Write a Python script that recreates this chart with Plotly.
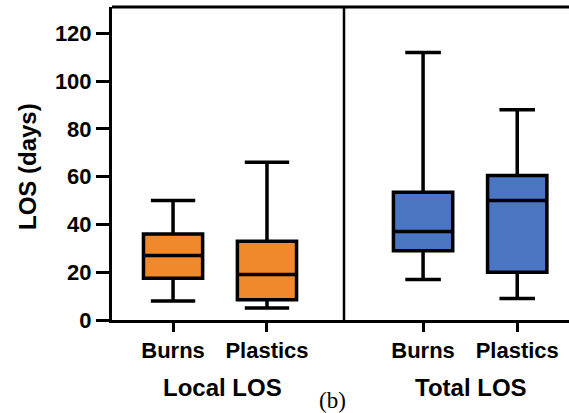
import plotly.graph_objects as go

categories = ["Burns", "Plastics"]
# Local LOS (days)
local_min = [8, 5]
local_q1 = [17.5, 8.5]
local_median = [27, 19]
local_q3 = [36, 33]
local_max = [50, 66]
# Total LOS (days)
total_min = [17, 9]
total_q1 = [29, 20]
total_median = [37, 50]
total_q3 = [53.5, 60.5]
total_max = [112, 88]
y_ticks = [0, 20, 40, 60, 80, 100, 120]

ORANGE = "#F0892B"
BLUE = "#4A76C2"
FONT = "Liberation Sans, Arial, sans-serif"

fig = go.Figure()
fig.add_trace(go.Box(
    x=categories, q1=local_q1, median=local_median, q3=local_q3,
    lowerfence=local_min, upperfence=local_max,
    fillcolor=ORANGE, line=dict(color="black", width=3.5),
    width=0.63, whiskerwidth=0.75, boxpoints=False,
    xaxis="x", yaxis="y", showlegend=False, hoverinfo="skip"))
fig.add_trace(go.Box(
    x=categories, q1=total_q1, median=total_median, q3=total_q3,
    lowerfence=total_min, upperfence=total_max,
    fillcolor=BLUE, line=dict(color="black", width=3.5),
    width=0.63, whiskerwidth=0.6, boxpoints=False,
    xaxis="x2", yaxis="y", showlegend=False, hoverinfo="skip"))

W, H = 569, 413
L, R, T, B = 112, 0, 7, 93
plot_w = W - L - R
plot_h = H - T - B
div = (344 - L) / plot_w


def px_x(px):
    return (px - L) / plot_w


def px_y(py):
    return (H - B - py) / plot_h


tickfont = dict(family=FONT, size=22, color="black", weight="bold")
xcommon = dict(type="category", categoryorder="array", categoryarray=categories,
               showline=True, linecolor="black", linewidth=3,
               ticks="outside", ticklen=9, tickwidth=3, tickcolor="black",
               tickfont=tickfont, showgrid=False, zeroline=False, fixedrange=True)

fig.update_layout(
    width=W, height=H,
    margin=dict(l=L, r=R, t=T, b=B),
    paper_bgcolor="white", plot_bgcolor="white",
    xaxis=dict(domain=[0, div], range=[-0.65, 1.82], anchor="y", **xcommon),
    xaxis2=dict(domain=[div, 1], range=[-0.84, 1.55], anchor="y", **xcommon),
    yaxis=dict(range=[0, 131], tickvals=y_ticks, showline=True, linecolor="black",
               linewidth=3, ticks="outside", ticklen=13, tickwidth=3, tickcolor="black",
               tickfont=tickfont, showgrid=False, zeroline=False, fixedrange=True),
    shapes=[
        dict(type="line", xref="paper", yref="paper", x0=0, x1=1, y0=1, y1=1,
             line=dict(color="black", width=3)),
        dict(type="line", xref="paper", yref="paper", x0=div, x1=div, y0=0, y1=1,
             line=dict(color="black", width=2.5)),
    ],
    annotations=[
        dict(text="LOS (days)", xref="paper", yref="paper",
             x=px_x(27), y=px_y(167), xanchor="center", yanchor="middle",
             textangle=-90, showarrow=False,
             font=dict(family=FONT, size=24, color="black", weight="bold")),
        dict(text="Local LOS", xref="paper", yref="paper",
             x=px_x(222), y=px_y(387), xanchor="center", yanchor="middle",
             showarrow=False,
             font=dict(family=FONT, size=24, color="black", weight="bold")),
        dict(text="Total LOS", xref="paper", yref="paper",
             x=px_x(471), y=px_y(387), xanchor="center", yanchor="middle",
             showarrow=False,
             font=dict(family=FONT, size=24, color="black", weight="bold")),
        dict(text="(b)", xref="paper", yref="paper",
             x=px_x(332), y=px_y(400), xanchor="center", yanchor="middle",
             showarrow=False,
             font=dict(family="Liberation Serif, Times New Roman, serif", size=23, color="black")),
    ],
)

fig.write_html("out.html", config={"displayModeBar": False},
               post_script="document.body.style.margin='0';document.body.style.overflow='hidden';")
